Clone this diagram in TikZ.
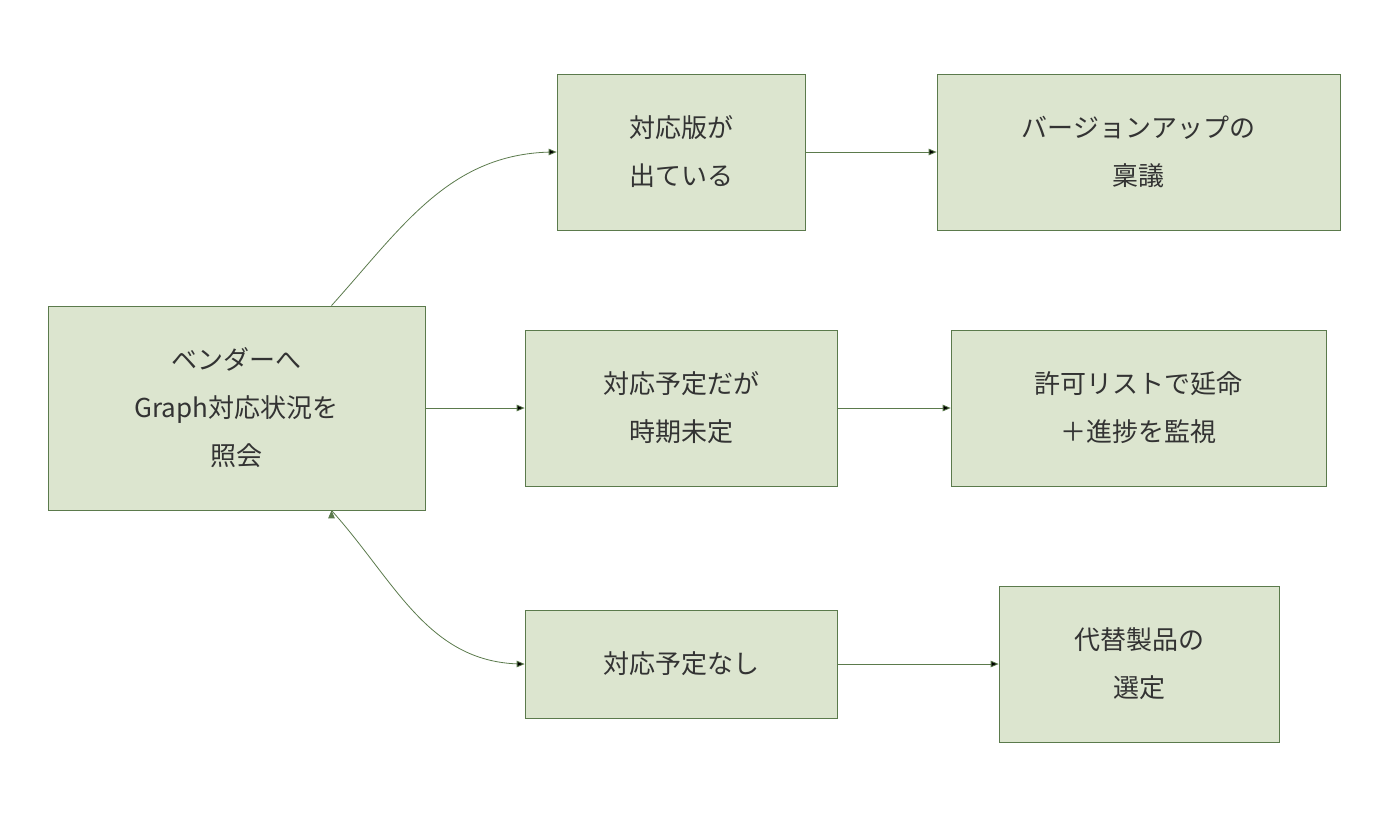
\documentclass[tikz,border=0pt]{standalone}
\usepackage{fontspec}
\newfontfamily\cjk{Noto Sans CJK JP}
\usetikzlibrary{arrows}
\definecolor{boxfill}{HTML}{DCE5CF}
\definecolor{boxline}{HTML}{5B7A4C}
\definecolor{txt}{HTML}{333333}
\begin{document}
\begin{tikzpicture}[x=1pt, y=-1pt, ->, >=triangle 45, semithick]
    \tikzstyle{stage}=[draw=boxline, fill=boxfill, thick, text=txt, font=\cjk\fontsize{26}{48}\selectfont, align=center, inner sep=0pt]
    \tikzstyle{link}=[draw=boxline, thick]
    \useasboundingbox (0,0) rectangle (1388,820);
    \node[stage, minimum width=377pt, minimum height=204pt]  (ask)  at (236.5,408)  {ベンダーへ\\Graph対応状況を\\照会};
    \node[stage, minimum width=248pt, minimum height=156pt]  (out)  at (681,152)    {対応版が\\出ている};
    \node[stage, minimum width=312pt, minimum height=156pt]  (tbd)  at (681,408)    {対応予定だが\\時期未定};
    \node[stage, minimum width=312pt, minimum height=108pt]  (none) at (681,664)    {対応予定なし};
    \node[stage, minimum width=403pt, minimum height=156pt]  (up)   at (1138.5,152) {バージョンアップの\\稟議};
    \node[stage, minimum width=375pt, minimum height=156pt]  (keep) at (1138.5,408) {許可リストで延命\\＋進捗を監視};
    \node[stage, minimum width=280pt, minimum height=156pt]  (alt)  at (1139,664)   {代替製品の\\選定};
    \coordinate (top) at ([xshift=95pt]ask.north);
    \coordinate (bot) at ([xshift=95pt]ask.south);
    \path[link]
    (top)  edge[out=48, in=180]   (out.west)
    (ask)  edge                   (tbd)
    (bot)  edge[out=-48, in=180]  (none.west)
    (out)  edge                   (up)
    (tbd)  edge                   (keep)
    (none) edge                   (alt);
\end{tikzpicture}
\end{document}
